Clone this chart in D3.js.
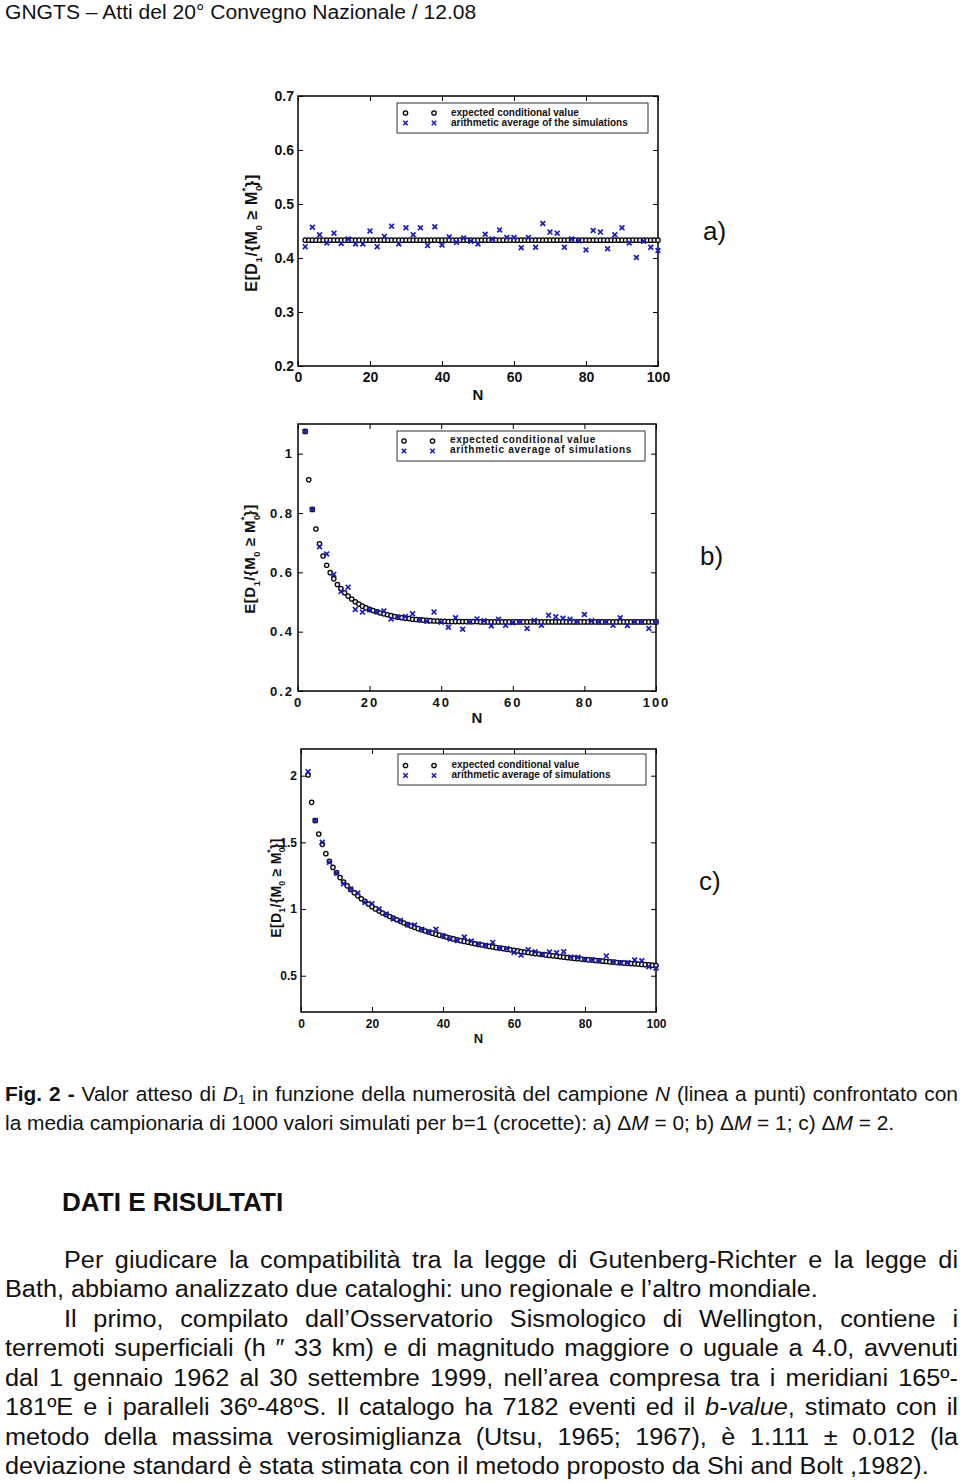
<!DOCTYPE html>
<html><head><meta charset="utf-8">
<script src="https://cdn.jsdelivr.net/npm/d3@7"></script>
<style>
body{margin:0;background:#fff;width:960px;height:1483px;position:relative;overflow:hidden;font-family:"Liberation Sans",Arial,Helvetica,sans-serif;color:#111}
.tl{position:absolute;white-space:normal;transform-origin:0 50%;}
.sub{font-size:0.62em;position:relative;top:0.28em;line-height:0}
</style></head><body>
<svg id="chart" width="960" height="1483" style="position:absolute;left:0;top:0"></svg>
<div id="text"></div>
<script>
// ---------------- DATA ----------------
const N_ALL = d3.range(2, 101);        // N = 2..100 (expected values)
const N_EVEN = d3.range(2, 101, 2);    // N = 2,4,..,100 (simulation averages)

const X_TICKS = [0, 20, 40, 60, 80, 100];
const X_TICK_LABELS = ["0", "20", "40", "60", "80", "100"];

const Y_TICKS_A = [0.2, 0.3, 0.4, 0.5, 0.6, 0.7];
const Y_TICK_LABELS_A = ["0.2", "0.3", "0.4", "0.5", "0.6", "0.7"];
const Y_TICKS_B = [0.2, 0.4, 0.6, 0.8, 1.0];
const Y_TICK_LABELS_B = ["0.2", "0.4", "0.6", "0.8", "1"];
const Y_TICKS_C = [0.5, 1.0, 1.5, 2.0];
const Y_TICK_LABELS_C = ["0.5", "1", "1.5", "2"];

const LEGEND_A = ["expected conditional value", "arithmetic average of the simulations"];
const LEGEND_B = ["expected conditional value", "arithmetic average of simulations"];
const LEGEND_C = ["expected conditional value", "arithmetic average of simulations"];

// panel a) expected conditional value, N = 2..100
const EXPECTED_A = [
0.433,0.433,0.433,0.433,0.433,0.433,0.433,0.433,0.433,0.433,
0.433,0.433,0.433,0.433,0.433,0.433,0.433,0.433,0.433,0.433,
0.433,0.433,0.433,0.433,0.433,0.433,0.433,0.433,0.433,0.433,
0.433,0.433,0.433,0.433,0.433,0.433,0.433,0.433,0.433,0.433,
0.433,0.433,0.433,0.433,0.433,0.433,0.433,0.433,0.433,0.433,
0.433,0.433,0.433,0.433,0.433,0.433,0.433,0.433,0.433,0.433,
0.433,0.433,0.433,0.433,0.433,0.433,0.433,0.433,0.433,0.433,
0.433,0.433,0.433,0.433,0.433,0.433,0.433,0.433,0.433,0.433,
0.433,0.433,0.433,0.433,0.433,0.433,0.433,0.433,0.433,0.433,
0.433,0.433,0.433,0.433,0.433,0.433,0.433,0.433,0.433];
// panel a) simulation averages, N = 2,4,..,100
const SIM_A = [
0.421,0.457,0.443,0.428,0.446,0.427,0.435,0.426,0.426,0.450,
0.421,0.440,0.459,0.426,0.456,0.443,0.456,0.423,0.458,0.424,
0.439,0.429,0.437,0.431,0.426,0.444,0.435,0.452,0.438,0.438,
0.419,0.438,0.420,0.464,0.448,0.446,0.420,0.435,0.432,0.415,
0.451,0.448,0.417,0.443,0.456,0.428,0.401,0.431,0.420,0.414];

// panel b)
const EXPECTED_B = [
1.075,0.912,0.812,0.746,0.696,0.655,0.624,0.599,0.578,0.559,
0.545,0.531,0.520,0.510,0.501,0.493,0.486,0.480,0.475,0.471,
0.467,0.463,0.460,0.457,0.454,0.451,0.449,0.447,0.445,0.444,
0.442,0.441,0.440,0.439,0.438,0.437,0.436,0.436,0.435,0.435,
0.434,0.434,0.434,0.434,0.434,0.434,0.434,0.434,0.434,0.433,
0.433,0.433,0.433,0.433,0.433,0.433,0.433,0.433,0.433,0.433,
0.433,0.433,0.433,0.433,0.433,0.433,0.433,0.433,0.433,0.433,
0.433,0.433,0.433,0.433,0.433,0.433,0.433,0.433,0.433,0.433,
0.433,0.433,0.433,0.433,0.433,0.433,0.433,0.433,0.433,0.433,
0.433,0.433,0.433,0.433,0.433,0.433,0.433,0.433,0.433];
const SIM_B = [
1.075,0.812,0.686,0.662,0.593,0.535,0.550,0.475,0.466,0.474,
0.467,0.470,0.443,0.449,0.451,0.460,0.440,0.435,0.466,0.432,
0.415,0.447,0.408,0.433,0.443,0.437,0.420,0.442,0.422,0.430,
0.433,0.411,0.438,0.422,0.455,0.450,0.445,0.442,0.433,0.458,
0.437,0.433,0.433,0.422,0.447,0.421,0.433,0.433,0.411,0.433];

// panel c)
const EXPECTED_C = [
2.005,1.800,1.663,1.563,1.485,1.415,1.358,1.312,1.272,1.236,
1.203,1.174,1.147,1.122,1.099,1.077,1.057,1.038,1.018,1.001,
0.985,0.970,0.957,0.944,0.932,0.920,0.908,0.895,0.883,0.873,
0.863,0.853,0.844,0.835,0.827,0.819,0.811,0.804,0.797,0.790,
0.783,0.776,0.769,0.763,0.757,0.751,0.746,0.740,0.735,0.730,
0.725,0.720,0.716,0.711,0.707,0.703,0.698,0.694,0.690,0.686,
0.682,0.678,0.674,0.670,0.666,0.663,0.659,0.656,0.652,0.649,
0.646,0.642,0.639,0.636,0.633,0.630,0.628,0.625,0.622,0.619,
0.617,0.614,0.612,0.609,0.607,0.604,0.602,0.599,0.597,0.595,
0.593,0.591,0.589,0.587,0.585,0.583,0.581,0.579,0.577];
const SIM_C = [
2.030,1.663,1.500,1.350,1.270,1.190,1.150,1.120,1.050,1.040,
1.000,0.963,0.925,0.915,0.885,0.880,0.848,0.830,0.848,0.800,
0.775,0.765,0.790,0.760,0.738,0.728,0.750,0.708,0.705,0.675,
0.655,0.695,0.680,0.660,0.678,0.672,0.680,0.640,0.638,0.622,
0.620,0.612,0.647,0.602,0.598,0.598,0.618,0.612,0.568,0.558];

// ---------------- LAYOUT ----------------
const FONT = '"Liberation Sans", Arial, Helvetica, sans-serif';
const CROSS_COLOR = "#1c1cb8";
const svg = d3.select("#chart");

const panels = [
  {x0:298,x1:658,y0:96,y1:366,yDomain:[0.2,0.7],yTicks:Y_TICKS_A,yLabels:Y_TICK_LABELS_A,
   expected:EXPECTED_A,sim:SIM_A,legend:LEGEND_A,
   tickFont:14,tickLS:0,xPad:6,yPad:4,nBase:400,nFont:15,
   lg:{x:397,y:103,w:251,h:30,m1:405.5,m2:434,r1:113,r2:123,tx:451,b1:115.5,b2:125.5,ls:0},
   yl:{cx:251,cy:233,fs:16,ls:0.6},tag:"a)",tagX:703,tagY:240},
  {x0:298,x1:656,y0:424,y1:691,yDomain:[0.2,1.1],yTicks:Y_TICKS_B,yLabels:Y_TICK_LABELS_B,
   expected:EXPECTED_B,sim:SIM_B,legend:LEGEND_B,
   tickFont:13,tickLS:2,xPad:7,yPad:4,nBase:723,nFont:15,
   lg:{x:397,y:431,w:248,h:30,m1:404,m2:432.5,r1:441,r2:451,tx:450,b1:443,b2:453,ls:0.7},
   yl:{cx:250,cy:559,fs:15,ls:0.5},tag:"b)",tagX:700,tagY:565},
  {x0:301,x1:656,y0:749,y1:1012,yDomain:[0.228,2.2],yTicks:Y_TICKS_C,yLabels:Y_TICK_LABELS_C,
   expected:EXPECTED_C,sim:SIM_C,legend:LEGEND_C,
   tickFont:12,tickLS:0,xPad:7.5,yPad:4,nBase:1043,nFont:13,
   lg:{x:398,y:754,w:248,h:31,m1:405.5,m2:434,r1:765.5,r2:775.5,tx:451.5,b1:767.5,b2:778,ls:0},
   yl:{cx:276,cy:888,fs:14,ls:0.3},tag:"c)",tagX:699,tagY:890}
];

function crossPath(s){ return `M${-s},${-s}L${s},${s}M${-s},${s}L${s},${-s}`; }

function styleAxis(g, p, hideLabels){
  g.select(".domain").remove();
  g.selectAll(".tick line").attr("stroke","#000").attr("stroke-width",1);
  g.selectAll("text")
    .attr("font-family",FONT).attr("font-size",p.tickFont).attr("font-weight","bold")
    .attr("fill","#111").attr("letter-spacing",p.tickLS);
  if (hideLabels) g.selectAll("text").remove();
}

panels.forEach(p => {
  const x = d3.scaleLinear().domain([0,100]).range([p.x0,p.x1]);
  const y = d3.scaleLinear().domain(p.yDomain).range([p.y1,p.y0]);
  const g = svg.append("g");

  const yFmt = d => p.yLabels[p.yTicks.indexOf(d)];
  const xFmt = d => X_TICK_LABELS[X_TICKS.indexOf(d)];
  g.append("g").attr("transform",`translate(${p.x0},0)`)
    .call(d3.axisLeft(y).tickValues(p.yTicks).tickSize(-5).tickPadding(p.yPad).tickFormat(yFmt))
    .call(s => styleAxis(s,p,false));
  g.append("g").attr("transform",`translate(${p.x1},0)`)
    .call(d3.axisRight(y).tickValues(p.yTicks).tickSize(-5).tickFormat(""))
    .call(s => styleAxis(s,p,true));
  g.append("g").attr("transform",`translate(0,${p.y1})`)
    .call(d3.axisBottom(x).tickValues(X_TICKS).tickSize(-5).tickPadding(p.xPad).tickFormat(xFmt))
    .call(s => styleAxis(s,p,false));
  g.append("g").attr("transform",`translate(0,${p.y0})`)
    .call(d3.axisTop(x).tickValues(X_TICKS).tickSize(-5).tickFormat(""))
    .call(s => styleAxis(s,p,true));

  g.append("rect").attr("x",p.x0).attr("y",p.y0)
    .attr("width",p.x1-p.x0).attr("height",p.y1-p.y0)
    .attr("fill","none").attr("stroke","#000").attr("stroke-width",1.5);

  // expected values (circles)
  g.append("g").selectAll("circle").data(N_ALL.map((n,i)=>({n,v:p.expected[i]})))
    .join("circle").attr("cx",d=>x(d.n)).attr("cy",d=>y(d.v)).attr("r",2.2)
    .attr("fill","#eee").attr("stroke","#000").attr("stroke-width",1.25);

  // simulation averages (crosses)
  g.append("g").selectAll("path").data(N_EVEN.map((n,i)=>({n,v:p.sim[i]})))
    .join("path").attr("transform",d=>`translate(${x(d.n)},${y(d.v)})`)
    .attr("d",crossPath(2.4)).attr("stroke",CROSS_COLOR).attr("stroke-width",1.7).attr("fill","none");

  // legend
  const L = p.lg;
  const lg = g.append("g");
  lg.append("rect").attr("x",L.x).attr("y",L.y).attr("width",L.w).attr("height",L.h)
    .attr("fill","#fff").attr("stroke","#333").attr("stroke-width",1);
  [L.m1,L.m2].forEach(mx => {
    lg.append("circle").attr("cx",mx).attr("cy",L.r1).attr("r",2.2)
      .attr("fill","#eee").attr("stroke","#000").attr("stroke-width",1.25);
    lg.append("path").attr("transform",`translate(${mx},${L.r2})`).attr("d",crossPath(2.2))
      .attr("stroke",CROSS_COLOR).attr("stroke-width",1.6);
  });
  lg.selectAll("text.lt").data(p.legend).join("text").attr("class","lt")
    .attr("x",L.tx).attr("y",(d,i)=> i===0?L.b1:L.b2)
    .attr("font-family",FONT).attr("font-size",10).attr("font-weight","bold")
    .attr("letter-spacing",L.ls).attr("fill","#111").text(d=>d);

  g.append("text").attr("x",(p.x0+p.x1)/2).attr("y",p.nBase).attr("text-anchor","middle")
    .attr("font-family",FONT).attr("font-size",p.nFont).attr("font-weight","bold").attr("fill","#111").text("N");

  const Y = p.yl;
  const t = g.append("text").attr("transform",`translate(${Y.cx},${Y.cy}) rotate(-90)`)
    .attr("text-anchor","middle").attr("dy","0.36em")
    .attr("font-family",FONT).attr("font-size",Y.fs).attr("font-weight","bold")
    .attr("letter-spacing",Y.ls).attr("fill","#111");
  t.append("tspan").text("E[D");
  t.append("tspan").attr("font-size",Y.fs*0.62).attr("dy",Y.fs*0.3).text("1");
  t.append("tspan").attr("dy",-Y.fs*0.3).text("/{M");
  t.append("tspan").attr("font-size",Y.fs*0.62).attr("dy",Y.fs*0.3).text("0");
  t.append("tspan").attr("dy",-Y.fs*0.3).text(" \u2265 M");
  t.append("tspan").attr("font-size",Y.fs*0.62).attr("dy",Y.fs*0.3).text("0");
  t.append("tspan").attr("font-size",Y.fs*0.62).attr("dx",-Y.fs*0.4).attr("dy",-Y.fs*0.85).text("*");
  t.append("tspan").attr("dy",Y.fs*0.55).text("}]");

  g.append("text").attr("x",p.tagX).attr("y",p.tagY).attr("font-family",FONT)
    .attr("font-size",26).attr("fill","#111").text(p.tag);
});

// ---------------- TEXT ----------------
const HEADER = "GNGTS \u2013 Atti del 20\u00b0 Convegno Nazionale / 12.08";
const CAPTION_LINES = [
 '<b>Fig. 2 -</b> Valor atteso di <i>D</i><span class="sub">1</span> in funzione della numerosità del campione <i>N</i> (linea a punti) confrontato con',
 'la media campionaria di 1000 valori simulati per b=1 (crocette): a) \u0394<i>M</i> = 0; b) \u0394<i>M</i> = 1; c) \u0394<i>M</i> = 2.'
];
const HEADING = "DATI E RISULTATI";
const PARA_LINES = [
 'Per giudicare la compatibilità tra la legge di Gutenberg-Richter e la legge di',
 'Bath, abbiamo analizzato due cataloghi: uno regionale e l’altro mondiale.',
 'Il primo, compilato dall’Osservatorio Sismologico di Wellington, contiene i',
 'terremoti superficiali (h \u2033 33 km) e di magnitudo maggiore o uguale a 4.0, avvenuti',
 'dal 1 gennaio 1962 al 30 settembre 1999, nell’area compresa tra i meridiani 165º-',
 '181ºE e i paralleli 36º-48ºS. Il catalogo ha 7182 eventi ed il <i>b-value</i>, stimato con il',
 'metodo della massima verosimiglianza (Utsu, 1965; 1967), è 1.111 ± 0.012 (la',
 'deviazione standard è stata stimata con il metodo proposto da Shi and Bolt ,1982).'
];
const PARA_INDENT = [true,false,true,false,false,false,false,false];
const PARA_JUSTIFY = [true,false,true,true,true,true,true,false];

const txt = d3.select("#text");
function addLine(html, left, right, baseline, fs, justify, weight, sx){
  const lh = Math.round(fs*1.3);
  const top = baseline - lh/2 - 0.3465*fs;
  txt.append("div").attr("class","tl")
    .style("left",left+"px").style("width",((right-left)/sx)+"px").style("top",top+"px")
    .style("transform",`scaleX(${sx})`)
    .style("font-size",fs+"px").style("line-height",lh+"px")
    .style("font-weight",weight||"normal")
    .style("text-align",justify?"justify":"left")
    .style("text-align-last",justify?"justify":"left")
    .html(html);
}
addLine(HEADER, 5, 958, 18.5, 20, false, "normal", 1.054);
CAPTION_LINES.forEach((h,i)=> addLine(h, 5, 958, 1101 + i*29, 19.3, i===0, "normal", 1.083));
addLine(HEADING, 62, 958, 1211, 25, false, "bold", 1.043);
PARA_LINES.forEach((h,i)=> addLine(h, PARA_INDENT[i]?64:5, 958, 1268 + i*29.5, 23.3, PARA_JUSTIFY[i], "normal", 1.084));
</script></body></html>
